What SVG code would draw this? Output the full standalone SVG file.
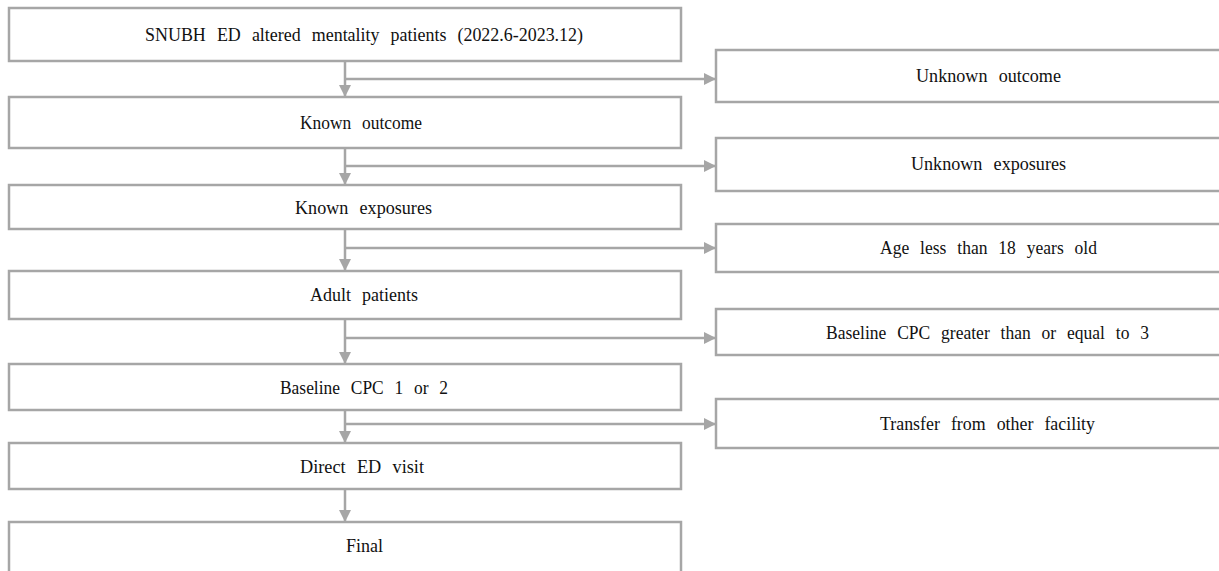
<svg xmlns="http://www.w3.org/2000/svg" width="1219" height="571" viewBox="0 0 1219 571">
  <style>
    .box { fill: #ffffff; stroke: #a6a6a6; stroke-width: 2.5; }
    .lbl { font-family: "Liberation Serif", "Times New Roman", serif; font-size: 19px; fill: #111111; word-spacing: 7px; }
    .conn { fill: none; stroke: #a6a6a6; stroke-width: 2.5; }
  </style>
  <defs>
    <marker id="arr" markerUnits="userSpaceOnUse" markerWidth="13" markerHeight="13" refX="12" refY="6.5" orient="auto" viewBox="0 0 13 13">
      <path d="M0,0.5 L12,6.5 L0,12.5 Z" fill="#a6a6a6"/>
    </marker>
  </defs>
  <rect width="1219" height="571" fill="#ffffff"/>

  <g id="connectors">
    <line class="conn" x1="345" y1="61" x2="345" y2="97" marker-end="url(#arr)"/>
    <line class="conn" x1="345" y1="79" x2="716" y2="79" marker-end="url(#arr)"/>
    <line class="conn" x1="345" y1="148" x2="345" y2="185" marker-end="url(#arr)"/>
    <line class="conn" x1="345" y1="166" x2="716" y2="166" marker-end="url(#arr)"/>
    <line class="conn" x1="345" y1="229" x2="345" y2="271" marker-end="url(#arr)"/>
    <line class="conn" x1="345" y1="248" x2="716" y2="248" marker-end="url(#arr)"/>
    <line class="conn" x1="345" y1="319" x2="345" y2="364" marker-end="url(#arr)"/>
    <line class="conn" x1="345" y1="338" x2="716" y2="338" marker-end="url(#arr)"/>
    <line class="conn" x1="345" y1="410" x2="345" y2="443" marker-end="url(#arr)"/>
    <line class="conn" x1="345" y1="424" x2="716" y2="424" marker-end="url(#arr)"/>
    <line class="conn" x1="345" y1="489" x2="345" y2="522" marker-end="url(#arr)"/>
  </g>

  <g id="n-snubh">
    <rect class="box" x="9" y="8" width="672" height="53"/>
    <text class="lbl" x="145" y="40.5" textLength="438" lengthAdjust="spacingAndGlyphs">SNUBH ED altered mentality patients (2022.6-2023.12)</text>
  </g>
  <g id="n-known-outcome">
    <rect class="box" x="9" y="97" width="672" height="51"/>
    <text class="lbl" x="300" y="128.5" textLength="122" lengthAdjust="spacingAndGlyphs">Known outcome</text>
  </g>
  <g id="n-known-exposures">
    <rect class="box" x="9" y="185" width="672" height="44"/>
    <text class="lbl" x="295" y="214" textLength="137" lengthAdjust="spacingAndGlyphs">Known exposures</text>
  </g>
  <g id="n-adult">
    <rect class="box" x="9" y="271" width="672" height="48"/>
    <text class="lbl" x="310" y="301" textLength="108" lengthAdjust="spacingAndGlyphs">Adult patients</text>
  </g>
  <g id="n-cpc12">
    <rect class="box" x="9" y="364" width="672" height="46"/>
    <text class="lbl" x="280" y="394" textLength="168" lengthAdjust="spacingAndGlyphs">Baseline CPC 1 or 2</text>
  </g>
  <g id="n-direct">
    <rect class="box" x="9" y="443" width="672" height="46"/>
    <text class="lbl" x="300" y="472.5" textLength="124" lengthAdjust="spacingAndGlyphs">Direct ED visit</text>
  </g>
  <g id="n-final">
    <rect class="box" x="9" y="522" width="672" height="56"/>
    <text class="lbl" x="346" y="552" textLength="37" lengthAdjust="spacingAndGlyphs">Final</text>
  </g>

  <g id="x-unknown-outcome">
    <rect class="box" x="716" y="50" width="540" height="52"/>
    <text class="lbl" x="916" y="82" textLength="145" lengthAdjust="spacingAndGlyphs">Unknown outcome</text>
  </g>
  <g id="x-unknown-exposures">
    <rect class="box" x="716" y="138" width="540" height="53"/>
    <text class="lbl" x="911" y="170" textLength="155" lengthAdjust="spacingAndGlyphs">Unknown exposures</text>
  </g>
  <g id="x-age">
    <rect class="box" x="716" y="224" width="540" height="48"/>
    <text class="lbl" x="880" y="254" textLength="217" lengthAdjust="spacingAndGlyphs">Age less than 18 years old</text>
  </g>
  <g id="x-cpc3">
    <rect class="box" x="716" y="309" width="540" height="46"/>
    <text class="lbl" x="826" y="338.5" textLength="323" lengthAdjust="spacingAndGlyphs">Baseline CPC greater than or equal to 3</text>
  </g>
  <g id="x-transfer">
    <rect class="box" x="716" y="399" width="540" height="49"/>
    <text class="lbl" x="880" y="429.5" textLength="215" lengthAdjust="spacingAndGlyphs">Transfer from other facility</text>
  </g>
</svg>
